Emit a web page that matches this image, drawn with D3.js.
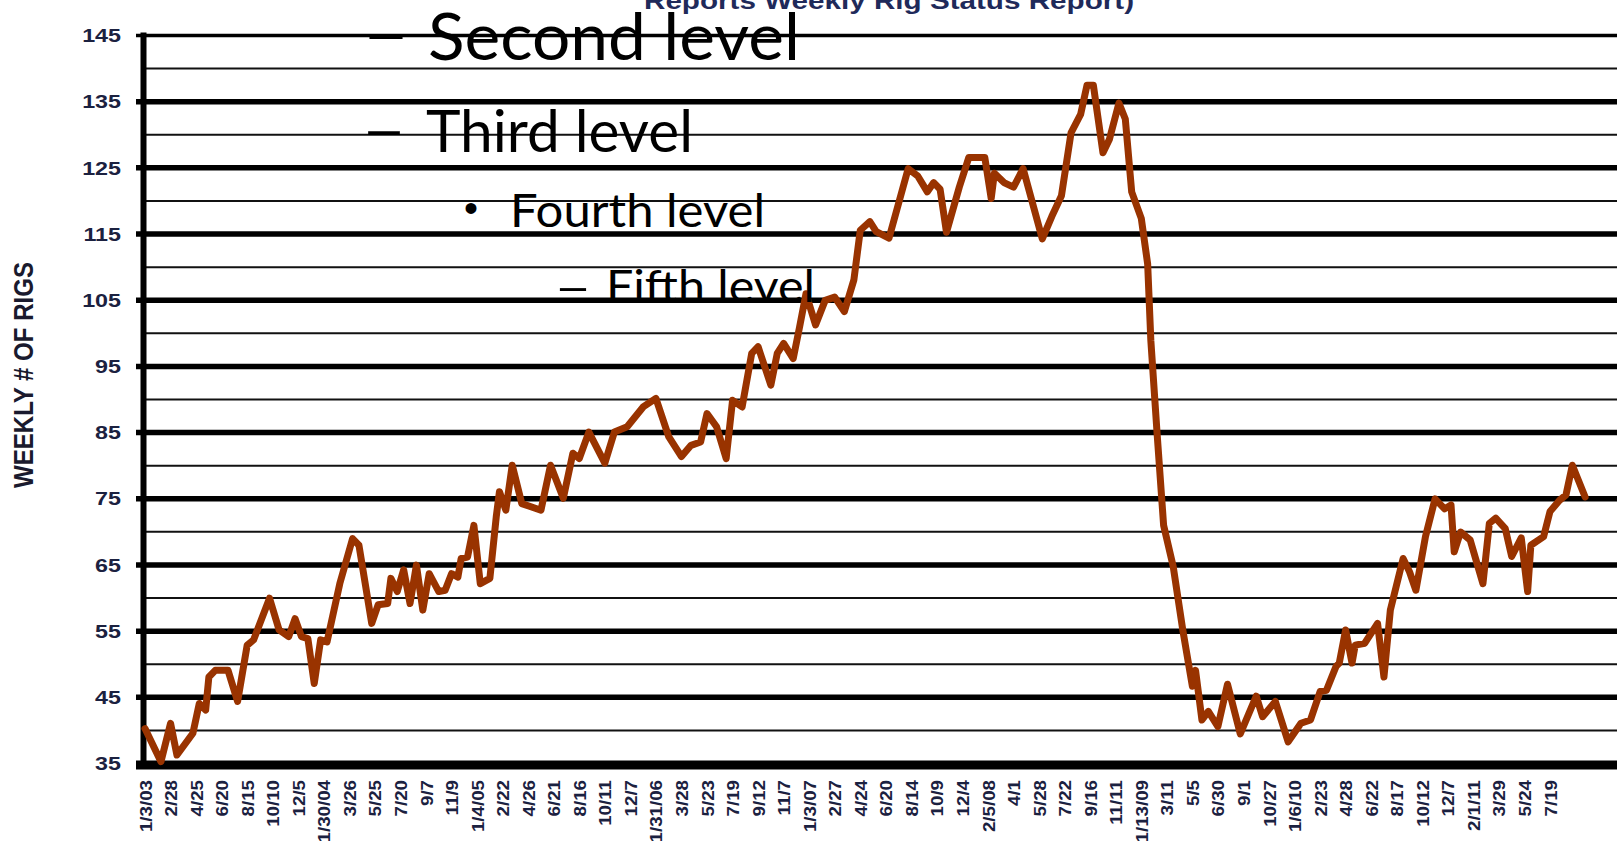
<!DOCTYPE html>
<html>
<head>
<meta charset="utf-8">
<script src="https://cdn.jsdelivr.net/npm/d3@7"></script>
<style>
  body { margin: 0; background: #fff; }
  svg { display: block; }
</style>
</head>
<body>
<div id="chart"></div>
<script>
// x axis labels, one every ~8 weeks starting 1/3/03
var xLabels = ["1/3/03", "2/28", "4/25", "6/20", "8/15", "10/10", "12/5", "1/30/04", "3/26", "5/25",
  "7/20", "9/7", "11/9", "1/4/05", "2/22", "4/26", "6/21", "8/16", "10/11", "12/7",
  "1/31/06", "3/28", "5/23", "7/19", "9/12", "11/7", "1/3/07", "2/27", "4/24", "6/20",
  "8/14", "10/9", "12/4", "2/5/08", "4/1", "5/28", "7/22", "9/16", "11/11", "1/13/09",
  "3/11", "5/5", "6/30", "9/1", "10/27", "1/6/10", "2/23", "4/28", "6/22", "8/17",
  "10/12", "12/7", "2/1/11", "3/29", "5/24", "7/19"];

// weeks since 1/3/03 and weekly rig count
var weeks = [0, 5, 8, 10, 15, 17, 19, 20, 22, 26, 29, 32, 34, 39, 42, 45, 47, 49, 51, 53,
  55, 57, 61, 65, 67, 71, 73, 76, 77, 79, 81, 83, 85, 87, 89, 92, 94, 96, 98, 99,
  101, 103, 105, 108, 110, 111, 113, 115,
  118, 124, 127, 131, 134, 136, 139, 144, 147, 151, 156, 160, 164, 168, 171, 174, 176, 179, 182, 184,
  187, 190, 192, 196, 198, 200, 203, 205, 207, 210, 213, 216, 219, 222, 224, 227, 229, 233,
  239, 242, 245, 247, 249, 251, 255, 258, 263, 265, 266, 269, 272, 275, 281, 284, 287, 290, 293, 295,
  297, 300, 302, 305, 307, 309, 312, 314, 315, 317, 319, 322, 325, 328, 329, 331, 333, 336, 339, 343,
  348, 350, 354, 358, 362, 365, 368, 370, 373, 374, 376, 378, 379, 382, 386, 388, 390, 394, 396, 398,
  401, 404, 407, 409, 410, 412, 415, 419, 421, 423, 426, 428, 431, 433, 434, 438, 440, 443, 445, 447, 451];

var rigs = [40.2, 35.2, 41.0, 36.2, 39.5, 44.0, 43.0, 48.0, 49.0, 49.0, 44.3, 52.8, 53.6, 59.9, 55.1, 54.1, 56.8, 54.1, 53.8, 47.0,
  53.6, 53.3, 62.1, 68.9, 67.9, 56.1, 58.9, 59.1, 62.9, 60.9, 64.2, 59.1, 64.9, 58.1, 63.6, 60.9, 61.1, 63.6, 63.1, 65.9,
  66.1, 70.9, 62.1, 62.9, 72.2, 76.0, 73.2, 80.0,
  74.2, 73.2, 80.0, 75.0, 81.8, 81.0, 85.0, 80.3, 85.0, 85.8, 88.8, 90.1, 84.3, 81.3, 83.0, 83.5, 87.8, 85.8, 81.0, 89.8,
  88.8, 96.9, 97.9, 92.1, 96.9, 98.4, 96.1, 100.9, 105.9, 101.2, 104.9, 105.4, 103.2, 108.0, 115.5, 116.8, 115.3, 114.3,
  124.8, 123.7, 121.3, 122.7, 121.7, 115.2, 122.0, 126.5, 126.5, 120.3, 124.1, 122.7, 122.0, 124.8, 114.2, 117.6, 120.7, 130.2, 133.0, 137.4,
  137.4, 127.2, 129.2, 134.7, 132.3, 121.3, 117.3, 110.4, 98.8, 84.5, 70.9, 64.7, 55.1, 46.6, 49.0, 41.5, 42.8, 40.5, 46.9, 39.4,
  45.1, 42.0, 44.3, 38.2, 41.0, 41.5, 45.8, 46.0, 49.6, 50.1, 55.1, 50.1, 52.8, 53.1, 56.1, 48.0, 58.1, 65.9, 63.9, 61.1,
  69.2, 74.9, 73.4, 74.0, 66.9, 69.9, 68.7, 62.1, 71.2, 72.0, 70.4, 66.2, 69.0, 60.9, 67.9, 69.2, 73.0, 74.7, 75.5, 80.0, 75.2];

var yTicks = [35, 45, 55, 65, 75, 85, 95, 105, 115, 125, 135, 145];
var yMinor = [40, 50, 60, 70, 80, 90, 100, 110, 120, 130, 140];

var titleText = "Reports Weekly Rig Status Report)";
var yTitle = "WEEKLY # OF RIGS";
var slideLines = ["Second level", "Third level", "Fourth level", "Fifth level"];

var width = 1617;
var height = 841;
var axisX = 143;

var svg = d3.select("#chart")
  .append("svg")
  .attr("width", width)
  .attr("height", height);

// scales
var xScale = d3.scaleLinear()
  .domain([0, (xLabels.length - 1) * 8])
  .range([145, 1550]);
var yScale = d3.scaleLinear()
  .domain([35, 145])
  .range([763, 35]);

// minor grid (thin)
svg.append("g")
  .attr("class", "minor-grid")
  .attr("transform", `translate(${axisX},0)`)
  .call(d3.axisLeft(yScale).tickValues(yMinor).tickSize(-(width - axisX)).tickFormat(""))
  .call(g => g.select(".domain").remove())
  .call(g => g.selectAll(".tick line").attr("stroke", "#111").attr("stroke-width", 2));

// major grid (thick) + tick labels
var majorG = svg.append("g")
  .attr("class", "major-grid")
  .attr("transform", "translate(136,0)")
  .call(d3.axisLeft(yScale).tickValues(yTicks).tickSize(-(width - 136)).tickPadding(15))
  .call(g => g.select(".domain").remove());

majorG.selectAll(".tick line")
  .attr("stroke", "#000")
  .attr("stroke-width", d => d == 145 ? 3.5 : (d == 35 ? 9 : 5.5))
  .attr("transform", d => d == 35 ? "translate(0,1.5)" : null);

majorG.selectAll(".tick text")
  .attr("x", -15 / 1.26)
  .attr("dy", "0.36em")
  .attr("transform", "scale(1.26,1)")
  .style("font-family", "'Liberation Sans', Arial, sans-serif")
  .style("font-weight", "bold")
  .style("font-size", "18.5px")
  .style("fill", "#1b2140");

// vertical axis line
svg.append("g")
  .attr("transform", `translate(${axisX},0)`)
  .call(d3.axisLeft(yScale).tickValues([]).tickSizeOuter(0))
  .call(g => g.select(".domain")
    .attr("stroke", "#000")
    .attr("stroke-width", 6)
    .attr("stroke-linecap", "square"));

// x axis labels (rotated)
var xAxisG = svg.append("g")
  .attr("transform", `translate(0,${yScale(35)})`)
  .call(d3.axisBottom(xScale)
    .tickValues(xLabels.map((d, i) => i * 8))
    .tickFormat((d, i) => xLabels[i])
    .tickSize(0))
  .call(g => g.select(".domain").remove());

xAxisG.selectAll(".tick text")
  .attr("x", 0)
  .attr("y", 0)
  .attr("dy", 0)
  .attr("text-anchor", "end")
  .attr("transform", "translate(6,17) scale(1,1.17) rotate(-90)")
  .style("font-family", "'Liberation Sans', Arial, sans-serif")
  .style("font-weight", "bold")
  .style("font-size", "16px")
  .style("fill", "#1b2140");

// the rig count line
var points = weeks.map((w, i) => [w, rigs[i]]);
var line = d3.line()
  .x(d => xScale(d[0]))
  .y(d => yScale(d[1]));

svg.append("path")
  .datum(points)
  .attr("d", line)
  .attr("fill", "none")
  .attr("stroke", "#993300")
  .attr("stroke-width", 7)
  .attr("stroke-linejoin", "round")
  .attr("stroke-linecap", "round");

// y axis title
svg.append("text")
  .attr("transform", "translate(33,375) scale(1.25,1) rotate(-90)")
  .attr("text-anchor", "middle")
  .attr("textLength", 226)
  .attr("lengthAdjust", "spacingAndGlyphs")
  .style("font-family", "'Liberation Sans', Arial, sans-serif")
  .style("font-weight", "bold")
  .style("font-size", "22px")
  .style("fill", "#1a1a2e")
  .text(yTitle);

// chart title, cut off at the top
svg.append("text")
  .attr("x", 644)
  .attr("y", 8.5)
  .attr("textLength", 490)
  .attr("lengthAdjust", "spacingAndGlyphs")
  .style("font-family", "'Liberation Sans', Arial, sans-serif")
  .style("font-weight", "bold")
  .style("font-size", "23px")
  .style("fill", "#1f2a5a")
  .text(titleText);

// slide placeholder text laid over the chart
var slide = svg.append("g").style("font-family", "Lato, 'Open Sans', sans-serif").style("fill", "#000");

function addText(txt, x, y, size, len) {
  slide.append("text")
    .attr("x", x).attr("y", y)
    .attr("textLength", len)
    .attr("lengthAdjust", "spacingAndGlyphs")
    .style("font-size", size + "px")
    .text(txt);
}

addText("\u2013", 362, 56, 65, 48);
addText(slideLines[0], 428, 59.5, 65, 372);
addText("\u2013", 361, 149.5, 58, 46);
addText(slideLines[1], 426, 152, 58, 267);
slide.append("text")
  .attr("x", 471).attr("y", 222)
  .attr("text-anchor", "middle")
  .style("font-family", "'Liberation Sans', Arial, sans-serif")
  .style("font-size", "40px")
  .text("\u2022");
addText(slideLines[2], 510, 227, 46, 255);
addText("\u2013", 554, 303, 45, 38);
addText(slideLines[3], 606, 302, 45, 209);
</script>
</body>
</html>
